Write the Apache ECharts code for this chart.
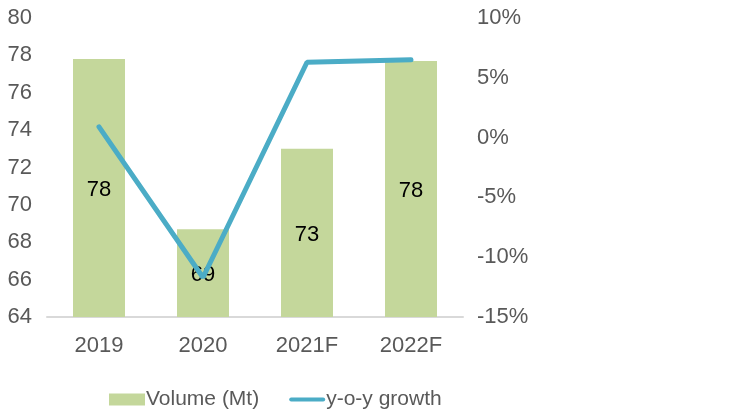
<!DOCTYPE html>
<html>
<head>
<meta charset="utf-8">
<script src="https://cdn.jsdelivr.net/npm/echarts@6/dist/echarts.min.js"></script>
<style>html,body{margin:0;padding:0;background:#fff;}#c{width:754px;height:410px;}</style>
</head>
<body>
<div id="c"></div>
<script>
const categories = ['2019', '2020', '2021F', '2022F'];
const volume = [77.8, 68.7, 73.0, 77.7];
const volumeLabels = ['78', '69', '73', '78'];
const growth = [0.9, -11.7, 6.3, 6.5];

const FONT = "'Liberation Sans', Arial, sans-serif";
const chart = echarts.init(document.getElementById('c'));
chart.setOption({
  animation: false,
  textStyle: { fontFamily: FONT },
  grid: { left: 47, right: 291, top: 18, bottom: 93 },
  legend: {
    top: 384,
    left: 104,
    itemGap: 30,
    itemWidth: 36,
    itemHeight: 12,
    textStyle: { fontFamily: FONT, fontSize: 21, color: '#595959', padding: [0, 0, 0, -4] },
    data: [
      { name: 'Volume (Mt)', icon: 'rect' },
      { name: 'y-o-y growth', icon: 'path://M2,0 L34,0 A2,2 0 0 1 34,4 L2,4 A2,2 0 0 1 2,0 Z' }
    ]
  },
  xAxis: {
    type: 'category',
    data: categories,
    axisLine: { onZero: false, lineStyle: { color: '#D9D9D9', width: 2 } },
    axisTick: { show: false },
    axisLabel: { fontSize: 22, color: '#595959', margin: 18, fontFamily: FONT }
  },
  yAxis: [
    {
      type: 'value', min: 64, max: 80, interval: 2,
      splitLine: { show: false },
      axisLine: { show: false }, axisTick: { show: false },
      axisLabel: { fontSize: 22, color: '#595959', margin: 15, fontFamily: FONT }
    },
    {
      type: 'value', min: -15, max: 10, interval: 5,
      splitLine: { show: false },
      axisLine: { show: false }, axisTick: { show: false },
      axisLabel: { fontSize: 22, color: '#595959', margin: 14, align: 'left', fontFamily: FONT,
        formatter: v => v + '%' }
    }
  ],
  series: [
    {
      name: 'Volume (Mt)',
      type: 'bar',
      data: volume,
      barWidth: '50%',
      itemStyle: { color: '#C4D79B' },
      label: {
        show: true, position: 'inside', offset: [0, 2], color: '#000', fontSize: 22, fontFamily: FONT,
        formatter: p => volumeLabels[p.dataIndex]
      }
    },
    {
      name: 'y-o-y growth',
      type: 'line',
      yAxisIndex: 1,
      data: growth,
      symbol: 'none',
      lineStyle: { color: '#4BACC6', width: 5, cap: 'round' },
      itemStyle: { color: '#4BACC6' }
    }
  ]
});
</script>
</body>
</html>
